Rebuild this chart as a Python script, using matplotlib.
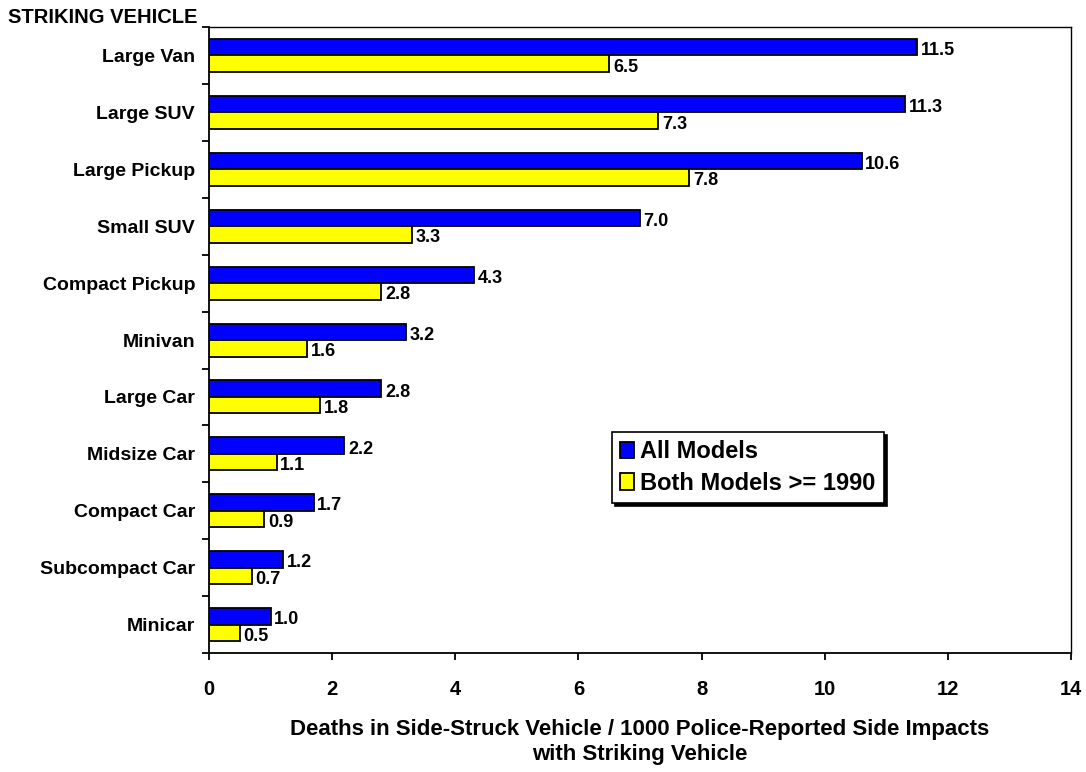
import matplotlib.pyplot as plt
import numpy as np

plt.rcParams['font.family'] = ['Liberation Sans', 'DejaVu Sans']
plt.rcParams['font.weight'] = 'bold'

# ---------------- DATA ----------------
vehicles = ['Large Van', 'Large SUV', 'Large Pickup', 'Small SUV', 'Compact Pickup',
            'Minivan', 'Large Car', 'Midsize Car', 'Compact Car', 'Subcompact Car', 'Minicar']
all_models = [11.5, 11.3, 10.6, 7.0, 4.3, 3.2, 2.8, 2.2, 1.7, 1.2, 1.0]
both_1990 = [6.5, 7.3, 7.8, 3.3, 2.8, 1.6, 1.8, 1.1, 0.9, 0.7, 0.5]

# ---------------- PLOT ----------------
fig = plt.figure(figsize=(10.86, 7.72), dpi=100)
ax = fig.add_axes([0.1924, 0.154, 0.9862 - 0.1924, 0.965 - 0.154])

n = len(vehicles)
y = np.arange(n)
h = 0.29

ax.barh(y - h / 2, all_models, height=h, color='#0000ff', edgecolor='black',
        linewidth=1.3, label='All Models')
ax.barh(y + h / 2, both_1990, height=h, color='#ffff00', edgecolor='black',
        linewidth=1.3, label='Both Models >= 1990')

# value labels just right of each bar
for i in range(n):
    ax.text(all_models[i] + 0.06, y[i] - h / 2 + 0.06, f'{all_models[i]:.1f}',
            va='center', ha='left', fontsize=13, fontweight='bold')
    ax.text(both_1990[i] + 0.06, y[i] + h / 2 + 0.06, f'{both_1990[i]:.1f}',
            va='center', ha='left', fontsize=13, fontweight='bold')

ax.set_xlim(0, 14)
ax.set_ylim(n - 0.5, -0.5)
ax.set_xticks(range(0, 15, 2))
ax.set_yticks(y)
ax.set_yticklabels(vehicles, fontsize=14, fontweight='bold')
ax.set_yticks(np.arange(-0.5, n, 1), minor=True)
ax.tick_params(axis='y', which='major', length=0, pad=10)
ax.tick_params(axis='y', which='minor', length=5, width=1.3, direction='out')
ax.tick_params(axis='x', length=5, width=1.3, direction='out', pad=14, labelsize=14.5)
for lab in ax.get_xticklabels():
    lab.set_fontweight('bold')

for s in ax.spines.values():
    s.set_linewidth(1.3)
ax.spines['right'].set_linewidth(1.0)
ax.spines['top'].set_linewidth(1.0)

ax.set_xlabel('Deaths in Side-Struck Vehicle / 1000 Police-Reported Side Impacts\nwith Striking Vehicle',
              fontsize=16, fontweight='bold', labelpad=15, linespacing=1.25)

fig.text(0.007, 0.977, 'STRIKING VEHICLE', fontsize=14.5, fontweight='bold', va='center', ha='left')

leg = ax.legend(loc='upper left', bbox_to_anchor=(0.4675, 0.353), fontsize=17,
                fancybox=False, shadow={'color': 'black', 'alpha': 1},
                edgecolor='black', framealpha=1, handlelength=0.6, handleheight=0.7,
                handletextpad=0.25, borderpad=0.35, labelspacing=0.35, borderaxespad=0)
leg.get_frame().set_linewidth(1.2)
for t in leg.get_texts():
    t.set_fontweight('bold')

fig.savefig('out.png', dpi=100)
